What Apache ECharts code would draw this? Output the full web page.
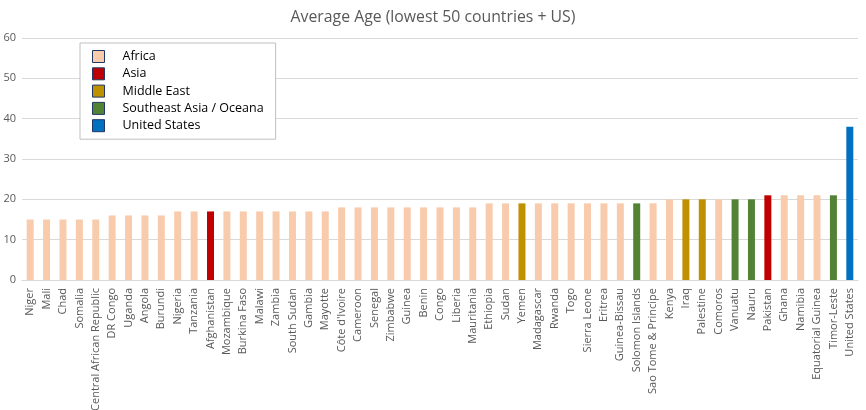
<!DOCTYPE html>
<html>
<head>
<meta charset="utf-8">
<script src="https://cdn.jsdelivr.net/npm/echarts@6/dist/echarts.min.js"></script>
<style>html,body{margin:0;padding:0;background:#fff}#c{width:866px;height:410px}</style>
</head>
<body>
<div id="c"></div>
<script>
const countries = ["Niger","Mali","Chad","Somalia","Central African Republic","DR Congo","Uganda","Angola","Burundi","Nigeria","Tanzania","Afghanistan","Mozambique","Burkina Faso","Malawi","Zambia","South Sudan","Gambia","Mayotte","Côte d'Ivoire","Cameroon","Senegal","Zimbabwe","Guinea","Benin","Congo","Liberia","Mauritania","Ethiopia","Sudan","Yemen","Madagascar","Rwanda","Togo","Sierra Leone","Eritrea","Guinea-Bissau","Solomon Islands","Sao Tome & Principe","Kenya","Iraq","Palestine","Comoros","Vanuatu","Nauru","Pakistan","Ghana","Namibia","Equatorial Guinea","Timor-Leste","United States"];
const ages = [15,15,15,15,15,16,16,16,16,17,17,17,17,17,17,17,17,17,17,18,18,18,18,18,18,18,18,18,19,19,19,19,19,19,19,19,19,19,19,20,20,20,20,20,20,21,21,21,21,21,38];
const regions = ["Africa","Africa","Africa","Africa","Africa","Africa","Africa","Africa","Africa","Africa","Africa","Asia","Africa","Africa","Africa","Africa","Africa","Africa","Africa","Africa","Africa","Africa","Africa","Africa","Africa","Africa","Africa","Africa","Africa","Africa","Middle East","Africa","Africa","Africa","Africa","Africa","Africa","Southeast Asia / Oceana","Africa","Africa","Middle East","Middle East","Africa","Southeast Asia / Oceana","Southeast Asia / Oceana","Asia","Africa","Africa","Africa","Southeast Asia / Oceana","United States"];
const regionNames = ["Africa","Asia","Middle East","Southeast Asia / Oceana","United States"];
const regionColors = ["#F8CBAD","#C00000","#BF9000","#548235","#0070C0"];
const yTicks = {min:0, max:60, interval:10};

const series = regionNames.map((r,k)=>({
  name:r, type:'bar', stack:'all', barWidth:7,
  itemStyle:{color:regionColors[k]},
  data: ages.map((v,i)=> regions[i]===r ? v : null)
}));

const chart = echarts.init(document.getElementById('c'));
chart.setOption({
  animation:false,
  title:{text:'Average Age (lowest 50 countries + US)', left:'center', top:4,
    textStyle:{fontFamily:'Open Sans', fontSize:15.8, fontWeight:'normal', color:'#595959'}},
  legend:{
    orient:'vertical', left:80, top:43,
    data:regionNames,
    itemWidth:12, itemHeight:12, itemGap:4.3,
    padding:[7,12,7,12],
    borderColor:'#bfbfbf', borderWidth:1, backgroundColor:'#fff',
    icon:'rect',
    itemStyle:{borderColor:'#1F3864', borderWidth:1},
    textStyle:{fontFamily:'Open Sans', fontSize:12.5, color:'#000', padding:[0,0,0,13]}
  },
  grid:{left:22, right:8, top:38, bottom:130, containLabel:false, outerBoundsMode:'none'},
  xAxis:{type:'category', data:countries,
    axisLine:{lineStyle:{color:'#d9d9d9'}}, axisTick:{show:false},
    axisLabel:{rotate:90, interval:0, fontFamily:'Open Sans', fontSize:11, color:'#595959', margin:8}},
  yAxis:{type:'value', min:yTicks.min, max:yTicks.max, interval:yTicks.interval,
    axisLine:{show:false}, axisTick:{show:false},
    splitLine:{lineStyle:{color:'#d9d9d9'}},
    axisLabel:{fontFamily:'Open Sans', fontSize:11, color:'#595959', margin:6}},
  series:series
});
</script>
</body>
</html>
